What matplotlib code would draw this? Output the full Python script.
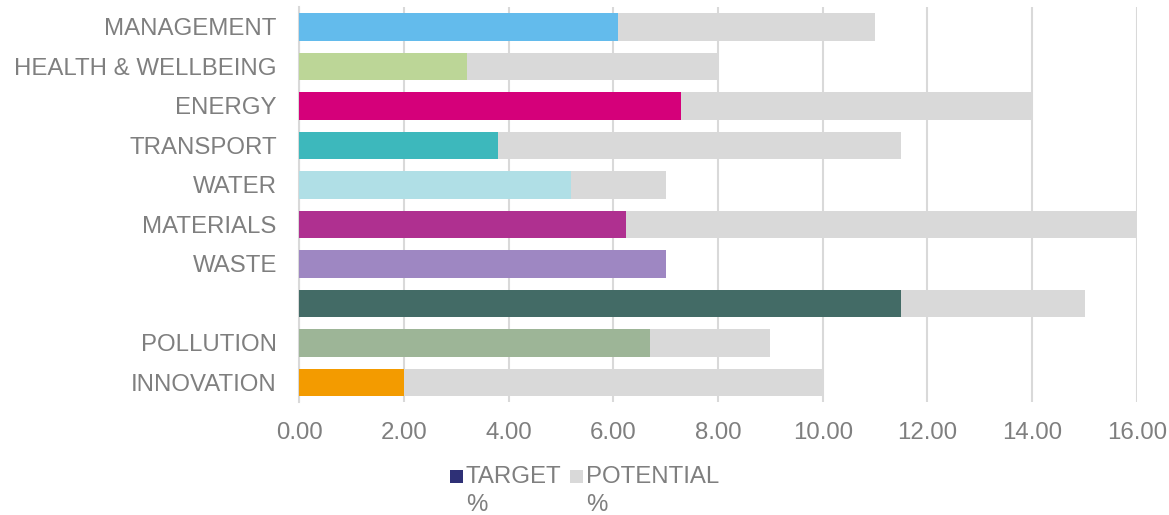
import matplotlib
matplotlib.use('Agg')
import matplotlib.pyplot as plt
from matplotlib.patches import Rectangle
import numpy as np

plt.rcParams['font.family'] = ['Liberation Sans', 'DejaVu Sans']

# ─── Data ────────────────────────────────────────────────────────────────────
categories = ["MANAGEMENT", "HEALTH & WELLBEING", "ENERGY", "TRANSPORT", "WATER",
              "MATERIALS", "WASTE", "", "POLLUTION", "INNOVATION"]
target = [6.1, 3.2, 7.3, 3.8, 5.2, 6.25, 7.0, 11.5, 6.7, 2.0]
potential = [11.0, 8.0, 14.0, 11.5, 7.0, 16.0, 7.0, 15.0, 9.0, 10.0]
bar_colors = ["#63BBEC", "#BCD697", "#D5007A", "#3DB8BC", "#B0DFE6",
              "#AF3090", "#9E87C2", "#436B66", "#9DB597", "#F39B00"]
legend_labels = ["TARGET\n%", "POTENTIAL\n%"]

GRAY = "#D9D9D9"
TXT = "#7F7F7F"
FS = 17.3

# ─── Figure ──────────────────────────────────────────────────────────────────
fig = plt.figure(figsize=(11.69, 5.15), dpi=100)
ax = fig.add_axes([0.2558, 0.219, 0.9726 - 0.2558, 0.986 - 0.219])

y = np.arange(len(categories))
ax.barh(y, potential, height=0.69, color=GRAY, zorder=2, clip_on=False)
ax.barh(y, target, height=0.69, color=bar_colors, zorder=3, clip_on=False)

ax.set_xlim(0, 16)
ax.set_ylim(len(categories) - 0.5, -0.5)
ax.set_yticks(y)
ax.set_yticklabels(categories)
ax.set_xticks(np.arange(0, 17, 2))
ax.set_xticklabels([f"{v:.2f}" for v in np.arange(0, 17, 2)])
ax.tick_params(length=0, labelsize=FS, labelcolor=TXT)
ax.tick_params(axis='x', pad=14)
ax.tick_params(axis='y', pad=16)

ax.grid(axis='x', color=GRAY, lw=1.5, zorder=0)
ax.set_axisbelow(True)
for s in ['top', 'right', 'bottom']:
    ax.spines[s].set_visible(False)
ax.spines['left'].set_color(GRAY)
ax.spines['left'].set_linewidth(1.5)

# ─── Legend (square aligned with first text line) ────────────────────────────
leg_colors = ["#2E3076", GRAY]
leg_x = [450 / 1169, 570 / 1169]
ty = 1 - 477 / 515
for lx, c, lab in zip(leg_x, leg_colors, legend_labels):
    fig.patches.append(Rectangle((lx, ty - 6 / 515), 13 / 1169, 13 / 515,
                                 transform=fig.transFigure, fc=c, ec='none'))
    fig.text(lx + 16 / 1169, ty + 11 / 515, lab, ha='left', va='top',
             fontsize=FS, color=TXT, linespacing=1.35)

fig.savefig("out.png", dpi=100, facecolor='white')
